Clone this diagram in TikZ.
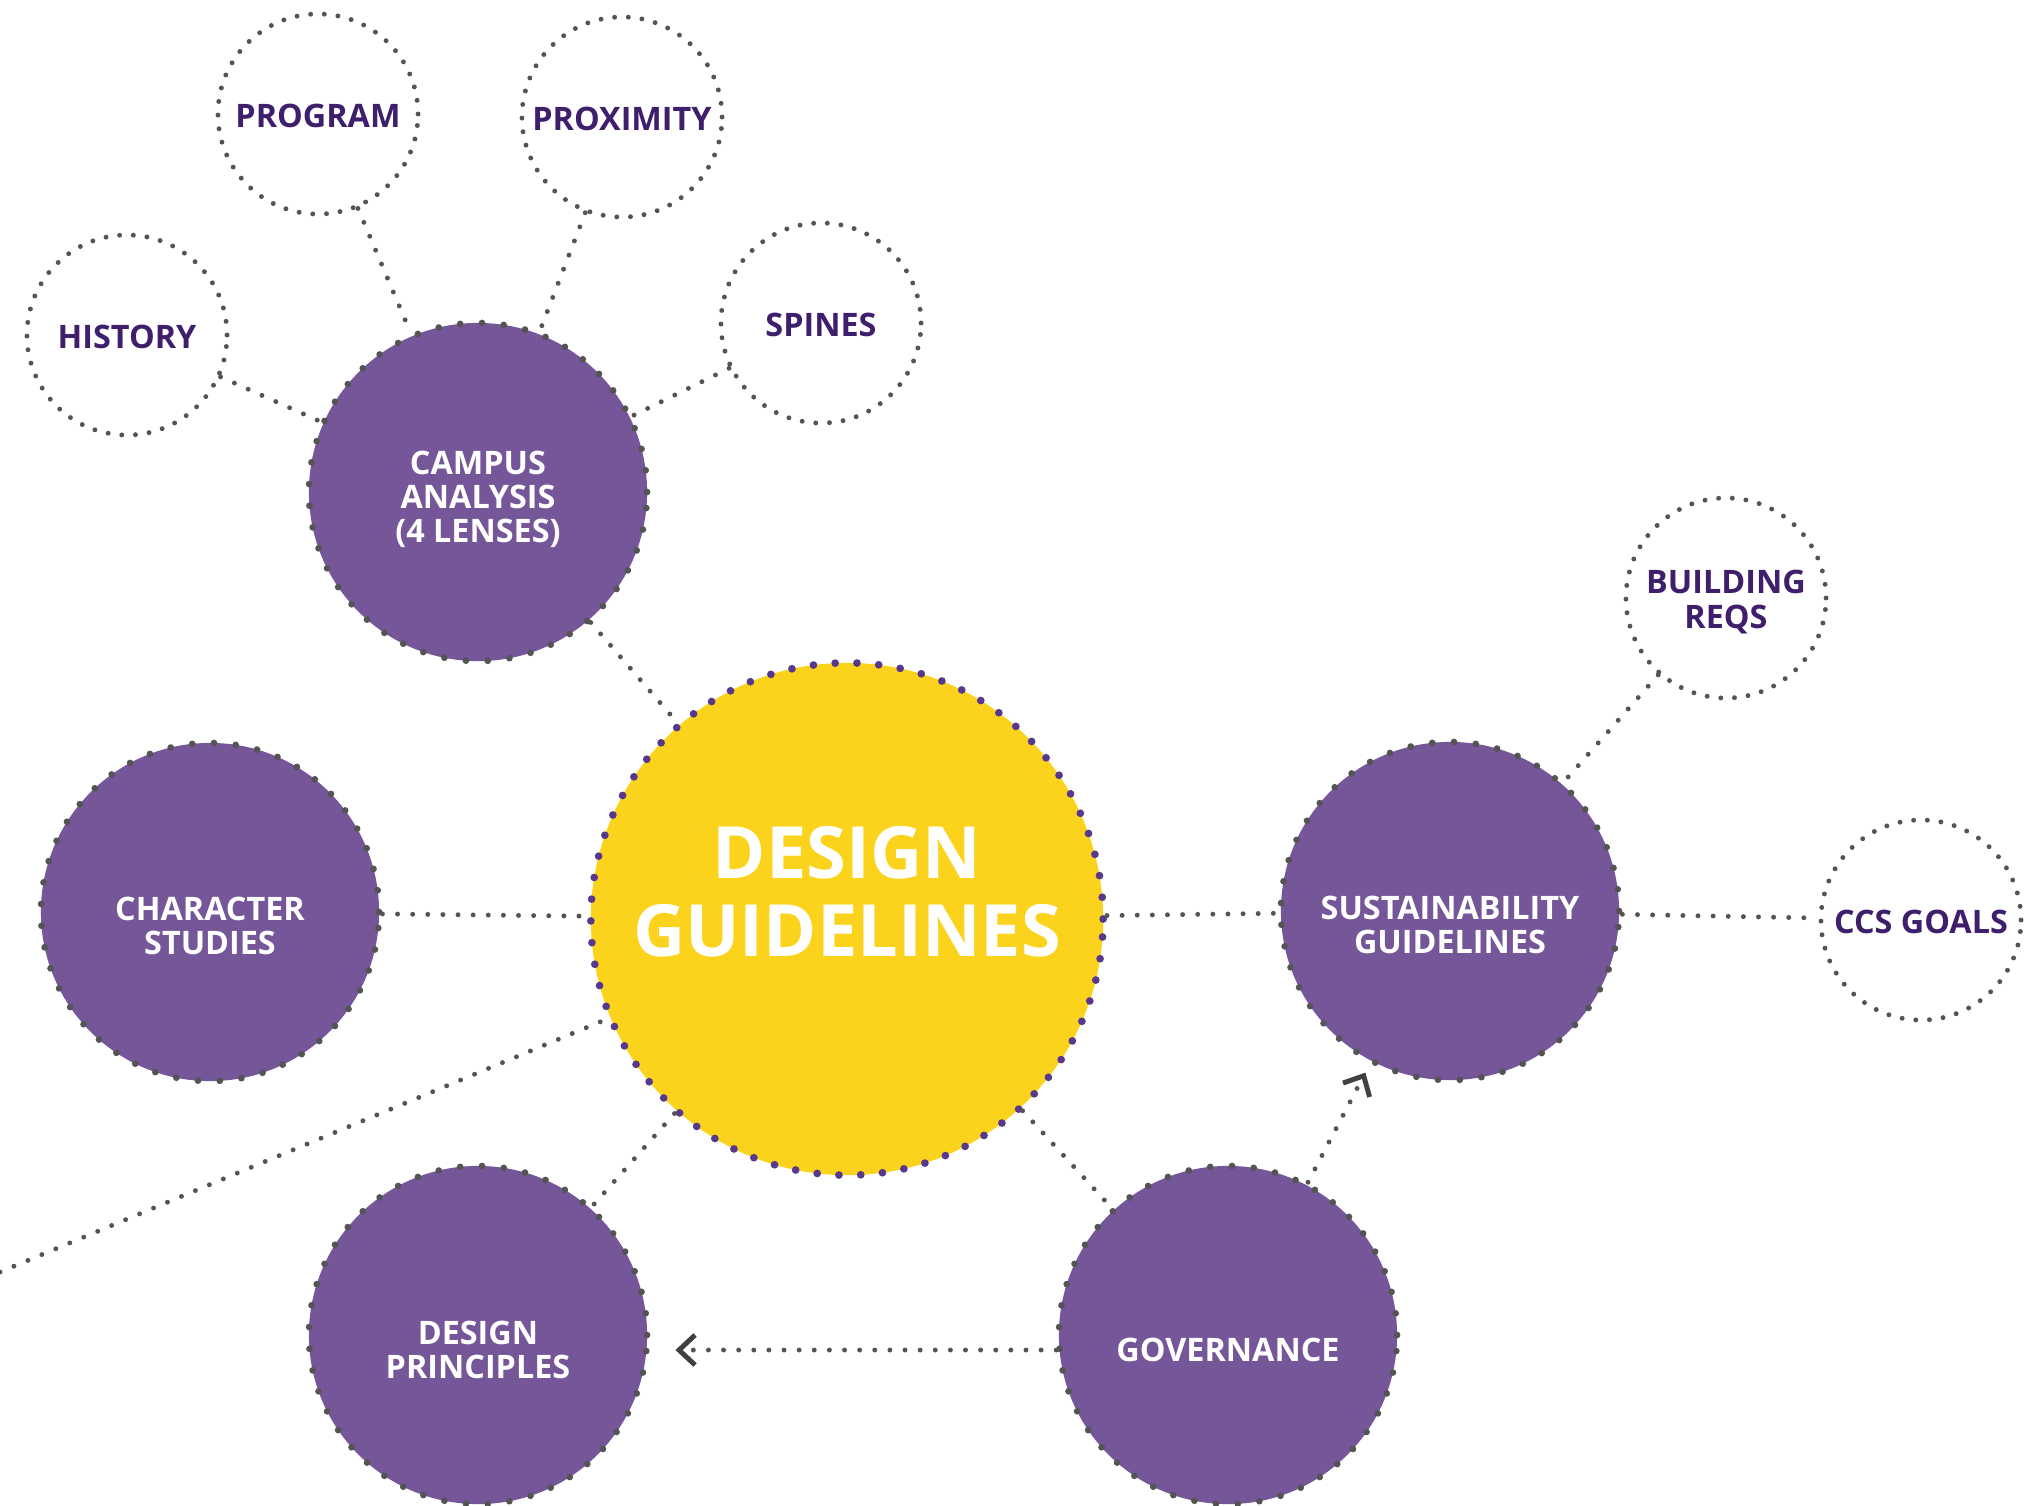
\documentclass[tikz,border=0pt]{standalone}
\usepackage{fontspec}
\setsansfont{Open Sans}
\usepackage{tikz}
\usetikzlibrary{arrows.meta}

\definecolor{lensviolet}{HTML}{745699}
\definecolor{hubyellow}{HTML}{FCD31C}
\definecolor{hubdots}{HTML}{57388C}
\definecolor{inkviolet}{HTML}{3F1F6C}
\definecolor{dotgray}{HTML}{545454}
\definecolor{tipgray}{HTML}{404040}

\tikzset{
	hub/.style={circle, fill=hubyellow, draw=hubdots, line width=2.2pt, line cap=round,
		dash pattern=on 0pt off 6.2pt, minimum size=5.12cm, inner sep=0pt},
	hubtext/.style={align=center, text=white, yshift=0.27cm,
		font=\sffamily\bfseries\fontsize{20.5}{22.2}\selectfont},
	topic/.style={circle, fill=lensviolet, draw=dotgray, line width=1.9pt, line cap=round,
		dash pattern=on 0pt off 6.2pt, minimum size=3.38cm, inner sep=0pt},
	topictext/.style={align=center, text=white, yshift=-0.14cm,
		font=\sffamily\bfseries\fontsize{9.2}{9.7}\selectfont},
	leaf/.style={circle, fill=white, draw=dotgray, line width=1.4pt, line cap=round,
		dash pattern=on 0pt off 3.9pt, minimum size=2cm, inner sep=0pt},
	leaftext/.style={align=center, text=inkviolet, yshift=-0.02cm,
		font=\sffamily\bfseries\fontsize{9.2}{9.7}\selectfont},
	link/.style={draw=dotgray, line width=1.4pt, line cap=round, dash pattern=on 0pt off 4.3pt},
	leads/.style={link, -{Straight Barb[length=1.6mm, width=3mm, line width=1.4pt, color=tipgray]}}
}

\begin{document}
\begin{tikzpicture}[x=0.01cm, y=-0.01cm]
	\useasboundingbox (0,0) rectangle (2041,1505);
	
	\node[hub, label={[name=designtext, hubtext]center:DESIGN\\GUIDELINES}] (design) at (847,919) {};
	\node[topic, label={[name=campustext, topictext, yshift=0.07cm]center:CAMPUS\\ANALYSIS\\(4 LENSES)}] (campus) at (478,492) {};
	\node[topic, label={[name=charactertext, topictext]center:CHARACTER\\STUDIES}] (character) at (210,912) {};
	\node[topic, label={[name=sustaintext, topictext]center:SUSTAINABILITY\\GUIDELINES}] (sustain) at (1450,911) {};
	\node[topic, label={[name=principlestext, topictext, yshift=-0.01cm]center:DESIGN\\PRINCIPLES}] (principles) at (478,1335) {};
	\node[topic, label={[name=governancetext, topictext, yshift=-0.01cm]center:GOVERNANCE}] (governance) at (1228,1335) {};
	
	\node[leaf, label={[name=historytext, leaftext]center:HISTORY}] (history) at (127,335) {};
	\node[leaf, label={[name=programtext, leaftext]center:PROGRAM}] (program) at (318,114) {};
	\node[leaf, label={[name=proximitytext, leaftext]center:PROXIMITY}] (proximity) at (622,117) {};
	\node[leaf, label={[name=spinestext, leaftext]center:SPINES}] (spines) at (821,323) {};
	\node[leaf, label={[name=buildingtext, leaftext, yshift=-0.02cm]center:BUILDING\\REQS}] (building) at (1726,598) {};
	\node[leaf, label={[name=ccstext, leaftext]center:CCS GOALS}] (ccs) at (1921,920) {};
	
	\coordinate (offleft) at (0,1272);
	
	\draw[link] (campus) -- (design);
	\draw[link] (history) -- (campus);
	\draw[link] (program) -- (campus);
	\draw[link] (proximity) -- (campus);
	\draw[link] (spines) -- (campus);
	\draw[link] (character) -- (design);
	\draw[link] (design) -- (sustain);
	\draw[link] (sustain) -- (ccs);
	\draw[link] (building) -- (sustain);
	\draw[link] (design) -- (principles);
	\draw[link] (design) -- (governance);
	\draw[link] (offleft) -- (design);
	\draw[leads, shorten >=0.25cm] (governance.185) -- (governance.185 -| principles.east);
	\draw[leads, shorten >=0.1cm] (governance) -- (sustain);
\end{tikzpicture}
\end{document}
